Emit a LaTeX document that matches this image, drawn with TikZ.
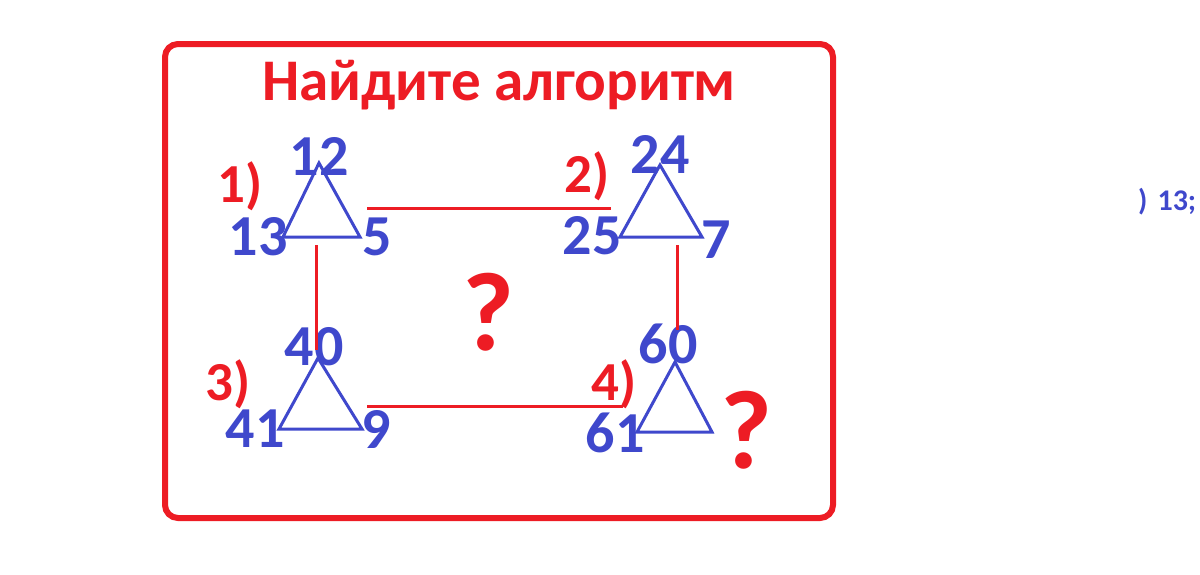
\documentclass[tikz,border=0pt]{standalone}
\usepackage{fontspec}
\setmainfont{Carlito}
\definecolor{pred}{HTML}{ED1C24}
\definecolor{pblue}{HTML}{3F48CC}
\begin{document}
\begin{tikzpicture}[x=1pt,y=-1pt,
  num/.style={text=pblue,font=\bfseries\fontsize{58}{58}\selectfont,inner sep=0pt,anchor=base},
  lbl/.style={text=pred,font=\bfseries\fontsize{55}{55}\selectfont,inner sep=0pt,anchor=base},
  qm/.style={text=pred,font=\bfseries\fontsize{112}{112}\selectfont,inner sep=0pt,anchor=base},
  tri/.style={draw=pblue,line width=3pt,line join=miter},
  link/.style={draw=pred,line width=3pt}]
\useasboundingbox (0,0) rectangle (1200,574);
% frame
\draw[pred,line width=6pt,rounded corners=13pt] (165,44) rectangle (833,518);
% title
\node[text=pred,font=\bfseries\fontsize{59}{59}\selectfont,inner sep=0pt,anchor=base] (title) at (499,100) {Найдите алгоритм};
% labels
\node[lbl] (l1) at (240,202) {1)};
\node[lbl] (l2) at (587,192) {2)};
\node[lbl] (l3) at (228,400) {3)};
\node[lbl] (l4) at (614,400) {4)};
% numbers
\node[num] (n12) at (319,175) {12};
\node[num] (n13) at (258,255) {13};
\node[num] (n5) at (377,255) {5};
\node[num] (n24) at (660,173) {24};
\node[num] (n25) at (592,254) {25};
\node[num] (n7) at (716,258) {7};
\node[num] (n40) at (314,365) {40};
\node[num] (n41) at (255,447) {41};
\node[num] (n9) at (376,448) {9};
\node[num] (n60) at (668,363) {60};
\node[num] (n61) at (615,452) {61};
% question marks
\node[qm] (q1) at (488,350) {?};
\node[qm] (q2) at (746,468) {?};
% side text
\node[text=pblue,font=\bfseries\fontsize{30}{30}\selectfont,inner sep=0pt,anchor=base west] (side) at (1138,210) {)\,\,13;};
% triangle corners
\coordinate (a1) at (319,163); \coordinate (b1) at (283,237); \coordinate (c1) at (360,237);
\coordinate (a2) at (660,165); \coordinate (b2) at (620,237); \coordinate (c2) at (702,237);
\coordinate (a3) at (318,358); \coordinate (b3) at (279,429); \coordinate (c3) at (362,429);
\coordinate (a4) at (675,362); \coordinate (b4) at (637,432); \coordinate (c4) at (712,432);
\draw[tri] (a1) -- (b1) -- (c1) -- cycle;
\draw[tri] (a2) -- (b2) -- (c2) -- cycle;
\draw[tri] (a3) -- (b3) -- (c3) -- cycle;
\draw[tri] (a4) -- (b4) -- (c4) -- cycle;
% link endpoints
\coordinate (h1s) at (367,208); \coordinate (h1e) at (611,208);
\coordinate (h2s) at (367,406); \coordinate (h2e) at (623,406);
\coordinate (v1s) at (316,245); \coordinate (v1e) at (316,350);
\coordinate (v2s) at (677,245); \coordinate (v2e) at (677,330);
\draw[link] (h1s) -- (h1e);
\draw[link] (h2s) -- (h2e);
\draw[link] (v1s) -- (v1e);
\draw[link] (v2s) -- (v2e);
\end{tikzpicture}
\end{document}
